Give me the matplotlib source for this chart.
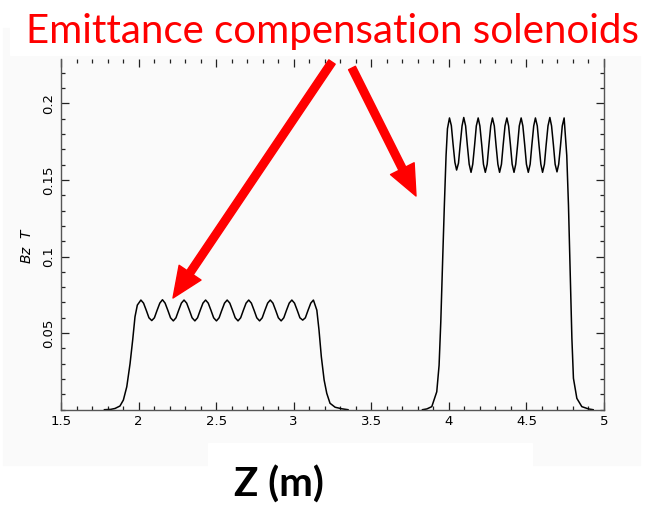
import matplotlib
matplotlib.use('Agg')
import matplotlib.pyplot as plt
from matplotlib.patches import Rectangle, FancyArrowPatch
from matplotlib.ticker import MultipleLocator, FixedLocator, FixedFormatter
from matplotlib.transforms import IdentityTransform

# Gun solenoid: Bz (T) along Z (m)
z_gun = [1.780, 1.820, 1.848, 1.880, 1.902, 1.924, 1.945, 1.962, 1.977, 1.992,
         2.015, 2.032, 2.050, 2.067, 2.085, 2.102, 2.119, 2.137,
         2.154, 2.171, 2.189, 2.206, 2.224, 2.241, 2.258, 2.276,
         2.293, 2.310, 2.328, 2.345, 2.363, 2.380, 2.397, 2.415,
         2.432, 2.449, 2.467, 2.484, 2.502, 2.519, 2.536, 2.554,
         2.571, 2.588, 2.606, 2.623, 2.641, 2.658, 2.675, 2.693,
         2.710, 2.727, 2.745, 2.762, 2.780, 2.797, 2.814, 2.832,
         2.849, 2.866, 2.884, 2.901, 2.919, 2.936, 2.953, 2.971,
         2.988, 3.005, 3.023, 3.040, 3.058, 3.075, 3.092, 3.110,
         3.127, 3.149, 3.163, 3.178, 3.196, 3.213, 3.234, 3.267, 3.310, 3.350]
bz_gun = [0.0, 0.0002, 0.0008, 0.0024, 0.0063, 0.0150, 0.0300, 0.0455, 0.0607, 0.0683,
          0.0716, 0.0696, 0.0648, 0.0600, 0.0582, 0.0600, 0.0648, 0.0696,
          0.0718, 0.0696, 0.0648, 0.0600, 0.0580, 0.0600, 0.0648, 0.0696,
          0.0716, 0.0696, 0.0648, 0.0600, 0.0580, 0.0600, 0.0648, 0.0696,
          0.0716, 0.0696, 0.0648, 0.0600, 0.0580, 0.0600, 0.0648, 0.0696,
          0.0716, 0.0696, 0.0648, 0.0600, 0.0580, 0.0600, 0.0648, 0.0696,
          0.0716, 0.0696, 0.0648, 0.0600, 0.0580, 0.0600, 0.0648, 0.0696,
          0.0716, 0.0696, 0.0648, 0.0600, 0.0580, 0.0600, 0.0648, 0.0696,
          0.0716, 0.0696, 0.0648, 0.0600, 0.0585, 0.0600, 0.0648, 0.0696,
          0.0716, 0.0650, 0.0520, 0.0346, 0.0194, 0.0107, 0.0042, 0.0016, 0.0006, 0.0]

# Booster solenoid
z_boost = [3.830, 3.858, 3.890, 3.922, 3.937, 3.948, 3.961, 3.971, 3.982, 3.991,
           4.004, 4.016, 4.027, 4.039, 4.050, 4.062, 4.073, 4.085,
           4.096, 4.108, 4.119, 4.131, 4.143, 4.154, 4.166, 4.177,
           4.189, 4.200, 4.212, 4.223, 4.235, 4.247, 4.258, 4.270,
           4.281, 4.293, 4.304, 4.316, 4.327, 4.339, 4.350, 4.362,
           4.374, 4.385, 4.397, 4.408, 4.420, 4.431, 4.443, 4.454,
           4.466, 4.477, 4.489, 4.500, 4.512, 4.524, 4.535, 4.547,
           4.558, 4.570, 4.581, 4.593, 4.604, 4.616, 4.627, 4.639,
           4.651, 4.662, 4.674, 4.685, 4.697, 4.708, 4.720, 4.731,
           4.743, 4.760, 4.771, 4.782, 4.793, 4.803, 4.825, 4.857, 4.900, 4.930]
bz_boost = [0.0, 0.0005, 0.0020, 0.0117, 0.0290, 0.0574, 0.1010, 0.1335, 0.1660, 0.1835,
            0.1905, 0.1855, 0.1735, 0.1615, 0.1565, 0.1610, 0.1730, 0.1853,
            0.1908, 0.1853, 0.1728, 0.1603, 0.1550, 0.1603, 0.1728, 0.1853,
            0.1905, 0.1853, 0.1728, 0.1603, 0.1550, 0.1603, 0.1728, 0.1853,
            0.1905, 0.1853, 0.1728, 0.1603, 0.1550, 0.1603, 0.1728, 0.1853,
            0.1905, 0.1853, 0.1728, 0.1603, 0.1550, 0.1603, 0.1728, 0.1853,
            0.1905, 0.1853, 0.1728, 0.1603, 0.1550, 0.1603, 0.1728, 0.1853,
            0.1905, 0.1853, 0.1728, 0.1603, 0.1550, 0.1603, 0.1728, 0.1853,
            0.1908, 0.1853, 0.1728, 0.1603, 0.1553, 0.1603, 0.1728, 0.1853,
            0.1905, 0.1660, 0.1335, 0.0900, 0.0466, 0.0205, 0.0074, 0.0020, 0.0005, 0.0]

x_ticks = [1.5, 2, 2.5, 3, 3.5, 4, 4.5, 5]
x_labels = ['1.5', '2', '2.5', '3', '3.5', '4', '4.5', '5']
y_ticks = [0.05, 0.1, 0.15, 0.2]
y_labels = ['0.05', '0.1', '0.15', '0.2']

title = 'Emittance compensation solenoids'
xlabel = 'Z (m)'

W, H = 647, 507
fig = plt.figure(figsize=(W / 100, H / 100), dpi=100)
fig.patch.set_facecolor('white')

# Light grey background of the pasted plot, white boxes for the slide text
bg = '#fafafa'
fig.add_artist(Rectangle((3 / W, 1 - 465 / H), 637 / W, 437 / H,
                         transform=fig.transFigure, color=bg, zorder=0))
fig.add_artist(Rectangle((10 / W, 1 - 55 / H), 637 / W, 55 / H,
                         transform=fig.transFigure, color='white', zorder=0.5))
fig.add_artist(Rectangle((208 / W, 0), 324 / W, 64 / H,
                         transform=fig.transFigure, color='white', zorder=0.5))

ax = fig.add_axes([61 / W, 1 - 409.7 / H, 543 / W, 350.7 / H])
ax.set_facecolor(bg)

ax.plot(z_gun, bz_gun, color='black', lw=1.1)
ax.plot(z_boost, bz_boost, color='black', lw=1.1)

ax.set_xlim(1.5, 5)
ax.set_ylim(0, 0.229)

# Axes and ticks in the IDL style: inward ticks on all four sides
ax.xaxis.set_major_locator(FixedLocator(x_ticks))
ax.xaxis.set_major_formatter(FixedFormatter(x_labels))
ax.xaxis.set_minor_locator(MultipleLocator(0.1))
ax.yaxis.set_major_locator(FixedLocator(y_ticks))
ax.yaxis.set_major_formatter(FixedFormatter(y_labels))
ax.yaxis.set_minor_locator(MultipleLocator(0.01))
ax.tick_params(which='both', direction='in', top=True, right=True,
               color='#222222', width=0.9)
ax.tick_params(which='major', length=5.5, labelsize=9.5, pad=4)
ax.tick_params(which='minor', length=3)
ax.tick_params(axis='y', labelrotation=90)
for lab in ax.get_yticklabels():
    lab.set_va('center')
for side in ['left', 'right', 'bottom']:
    ax.spines[side].set_color('#555555')
    ax.spines[side].set_linewidth(1.0)
ax.spines['top'].set_visible(False)

fig.text(27 / W, 1 - 245 / H, r'$Bz\ \ T$', rotation=90, ha='center',
         va='center', fontsize=10, family='DejaVu Serif')

# Slide annotations
fig.text(332 / W, 1 - 43 / H, title, color='#ff0000', fontsize=29,
         family='Lato', ha='center', va='baseline')
fig.text(279 / W, 1 - 497 / H, xlabel, color='black', fontsize=29,
         family='Lato', fontweight='bold', ha='center', va='baseline')

for tail, tip in [((332, 62), (173, 298)), ((352, 68), (416, 196))]:
    arr = FancyArrowPatch((tail[0], H - tail[1]), (tip[0], H - tip[1]),
                          transform=IdentityTransform(),
                          arrowstyle='simple,head_width=19,head_length=22,tail_width=5.5',
                          mutation_scale=1, color='#ff0000', shrinkA=0, shrinkB=0,
                          zorder=5)
    fig.add_artist(arr)

fig.savefig('out.png', dpi=100, facecolor='white')
